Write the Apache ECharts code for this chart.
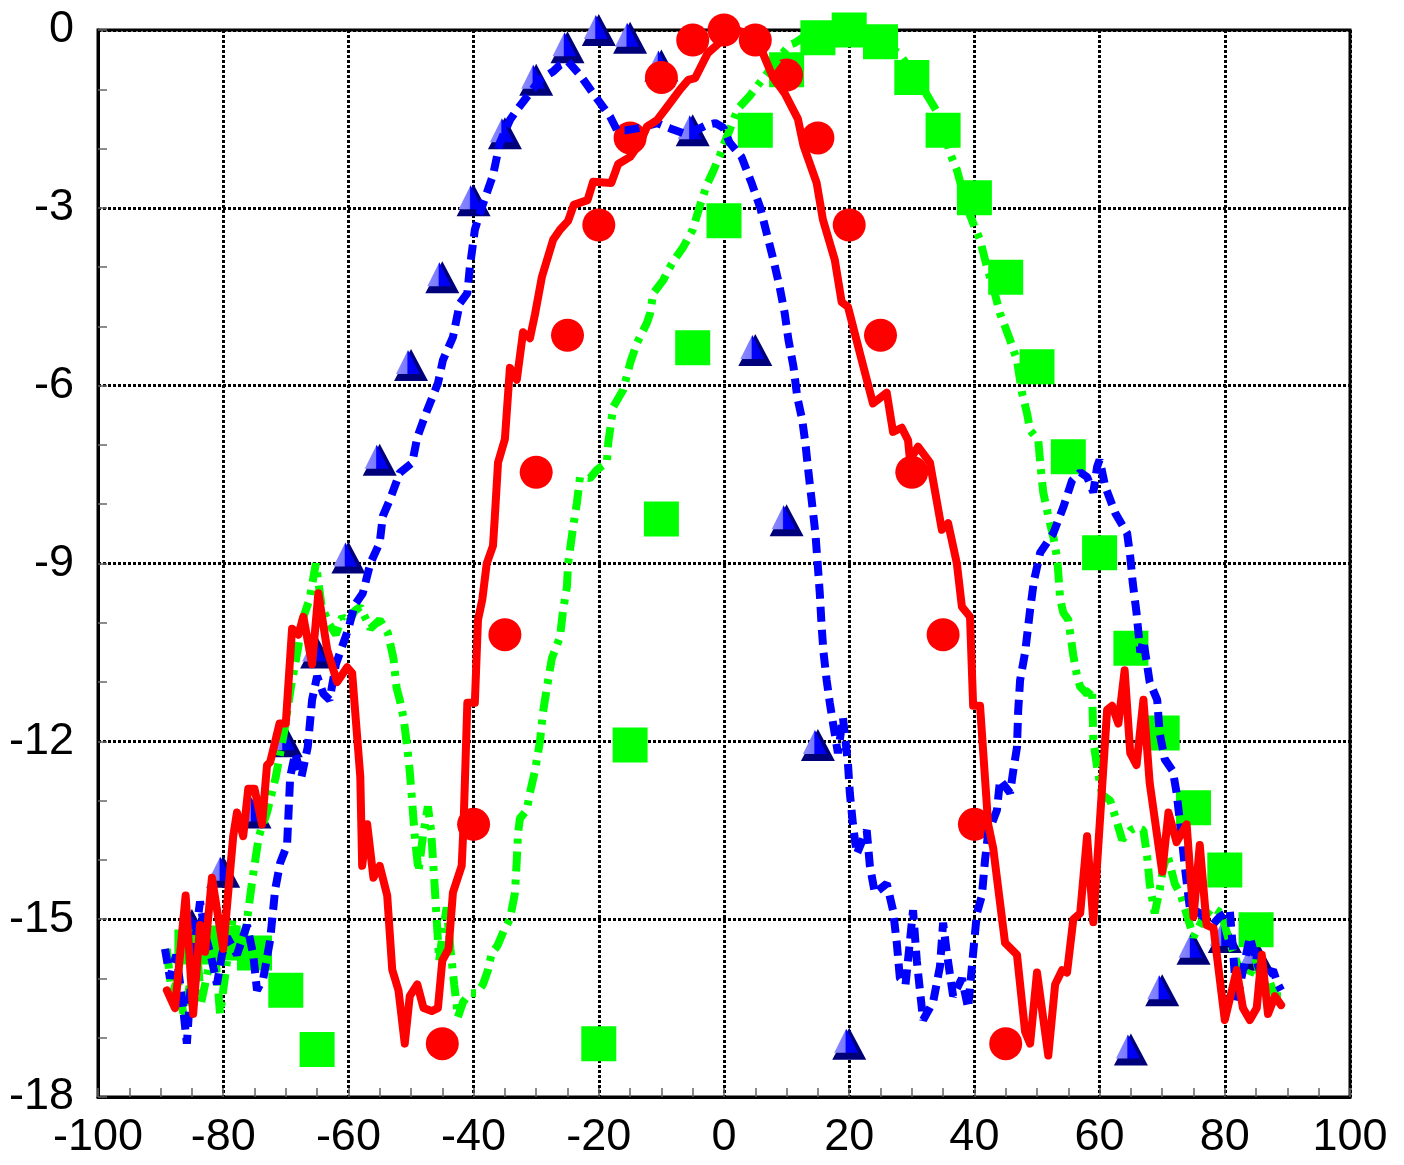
<!DOCTYPE html>
<html>
<head>
<meta charset="utf-8">
<script src="https://cdn.jsdelivr.net/npm/echarts@6/dist/echarts.min.js"></script>
<style>
  html, body { margin: 0; padding: 0; background: #fff; }
  #main { width: 1404px; height: 1165px; }
</style>
</head>
<body>
<div id="main"></div>
<script>
// marker angles (degrees) and levels (dB)
const triangleX = [-85, -80, -75, -70, -65, -60, -55, -50, -45, -40, -35, -30, -25, -20, -15, -10, -5, 0, 5, 10, 15, 20, 65, 70, 75, 80, 85];
const triangleY = [-15.1, -14.2, -13.2, -12.0, -10.5, -8.9, -7.25, -5.65, -4.17, -2.87, -1.74, -0.84, -0.29, 0, -0.13, -0.6, -1.69, -3.2, -5.4, -8.27, -12.06, -17.1, -17.2, -16.2, -15.5, -15.3, -15.6];

const squareX = [-85, -80, -75, -70, -65, -20, -15, -10, -5, 0, 5, 10, 15, 20, 25, 30, 35, 40, 45, 50, 55, 60, 65, 70, 75, 80, 85];
const squareY = [-15.47, -15.4, -15.57, -16.2, -17.2, -17.1, -12.06, -8.25, -5.36, -3.22, -1.69, -0.67, -0.13, 0, -0.2, -0.8, -1.69, -2.83, -4.17, -5.68, -7.2, -8.82, -10.43, -11.86, -13.12, -14.17, -15.18];

const circleX = [-45, -40, -35, -30, -25, -20, -15, -10, -5, 0, 5, 10, 15, 20, 25, 30, 35, 40, 45];
const circleY = [-17.1, -13.4, -10.2, -7.46, -5.15, -3.29, -1.82, -0.8, -0.17, 0, -0.17, -0.76, -1.82, -3.29, -5.15, -7.46, -10.2, -13.4, -17.1];

// measured curves [angle, dB]
const redLine = [
  [-89, -16.2], [-87.7, -16.5], [-86, -14.6], [-84.8, -16.6], [-83.7, -15.1], [-82.9, -15.55], [-81.8, -14.3], [-80, -15.5],
  [-78.4, -13.6], [-77.8, -13.2], [-76.8, -13.6], [-76, -12.8], [-75, -12.8], [-73.8, -13.4], [-73, -12.4], [-72.5, -12.35],
  [-71, -11.7], [-70, -11.7], [-69, -10.1], [-68, -10.2], [-67.2, -9.9], [-65.8, -10.7], [-64.8, -9.5], [-63.4, -10.45],
  [-61.8, -11.0], [-60.2, -10.75], [-59.4, -10.85], [-58.1, -12.6], [-57.8, -14.1], [-57, -13.4], [-56, -14.3], [-55, -14.1],
  [-53.8, -14.6], [-53, -15.85], [-52, -16.2], [-51, -17.1], [-50.2, -16.3], [-49, -16.1], [-48, -16.5], [-46.7, -16.55],
  [-45.7, -16.5], [-45, -15.7], [-44, -15.5], [-43.3, -14.55], [-41.9, -14.1], [-41.6, -13.4], [-41, -11.35], [-39.8, -11.35],
  [-39.3, -9.95], [-38.6, -9.6], [-37.9, -9.0], [-36.9, -8.7], [-36.6, -8.2], [-36.1, -7.3], [-35, -6.9], [-34.2, -5.7],
  [-33.1, -5.9], [-32.1, -5.1], [-31, -5.2], [-30.2, -4.8], [-29.1, -4.17], [-27.3, -3.54], [-26.2, -3.37], [-24.9, -3.22],
  [-24, -2.95], [-21.8, -2.87], [-20.9, -2.56], [-18, -2.58], [-16.9, -2.26], [-15, -2.14], [-13.4, -1.9], [-12.3, -1.63],
  [-10.7, -1.52], [-9.1, -1.3], [-7, -1.0], [-5.7, -0.84], [-4.6, -0.81], [-2.6, -0.39], [-1.4, -0.28], [-0.6, -0.2],
  [0.5, -0.05], [2, 0], [3.5, -0.05], [5, -0.2], [6.2, -0.39], [7.8, -0.79], [9.7, -1.07], [11.8, -1.5], [12.7, -1.95],
  [14.8, -2.58], [15.8, -3.2], [17.7, -3.88], [18.8, -4.59], [19.8, -4.67], [21.7, -5.45], [23.8, -6.3], [26, -6.12],
  [27, -6.78], [28.4, -6.71], [29.4, -6.92], [29.7, -7.25], [31, -7.03], [32.9, -7.3], [34.8, -8.43], [35.8, -8.32],
  [37.2, -9.0], [38, -9.73], [39.3, -9.9], [39.8, -11.4], [40.9, -11.4], [42.2, -13.4], [43, -13.8], [44.9, -15.4],
  [46.8, -15.6], [48.1, -16.9], [48.9, -17.1], [50, -15.9], [51.8, -17.3], [52.9, -16.1], [54, -15.86], [54.8, -15.9],
  [55.8, -15.0], [56.9, -14.9], [58, -13.6], [59, -15.05], [61.2, -11.47], [62, -11.4], [63, -11.7], [64, -10.8],
  [64.9, -12.2], [65.9, -12.4], [67, -11.3], [68, -12.7], [70, -14.2], [71, -13.2], [72.3, -13.7], [73.9, -13.4],
  [75, -14.96], [76, -13.75], [77.1, -15.1], [78.2, -15.15], [80, -16.7], [81.9, -15.86], [82.9, -16.5], [84, -16.7],
  [85.1, -16.5], [85.9, -15.6], [86.9, -16.6], [88, -16.3], [89, -16.45]
];

const blueLine = [
  [-89.3, -15.5], [-88.5, -16.0], [-87.5, -15.6], [-86.5, -16.4], [-85.8, -17.1], [-85, -15.8], [-84.3, -15.2], [-83.7, -14.7],
  [-82.8, -15.3], [-82, -15.6], [-81, -16.1], [-80.2, -15.6], [-79.4, -15.3], [-77.8, -15.6], [-76.2, -15.1], [-75.2, -15.6],
  [-74.6, -16.2], [-73.6, -16.0], [-72.5, -15.35], [-71.7, -14.5], [-70.9, -14.05], [-69.8, -13.75], [-69.3, -12.6], [-68.5, -12.2],
  [-67.5, -12.6], [-66.5, -12.1], [-65.8, -11.3], [-65, -10.9], [-64, -11.2], [-63, -11.3], [-62, -10.7], [-61, -10.4],
  [-60, -10.1], [-59, -9.7], [-57.7, -9.5], [-56.5, -9.0], [-55, -8.65], [-54.5, -8.2], [-53.4, -7.93], [-51.8, -7.47],
  [-49.8, -7.3], [-49, -6.87], [-47.4, -6.41], [-45.7, -5.96], [-44.9, -5.57], [-43.3, -5.18], [-42.2, -4.61], [-41, -4.44],
  [-40.6, -4.0], [-39.8, -3.37], [-39, -3.09], [-37.9, -2.75], [-36.9, -2.45], [-35.8, -1.9], [-34.2, -1.52], [-33.1, -1.35],
  [-31.5, -1.13], [-29.4, -0.84], [-27.3, -0.7], [-26.2, -0.59], [-24.9, -0.53], [-23, -0.76], [-20.9, -1.07], [-19.3, -1.3],
  [-18.2, -1.46], [-17.1, -1.69], [-15.5, -1.69], [-13.9, -1.66], [-12.3, -1.62], [-10.7, -1.57], [-8.6, -1.66], [-6.5, -1.74],
  [-5, -1.72], [-2.7, -1.6], [-1.4, -1.57], [-0.1, -1.65], [0.9, -1.9], [2.8, -2.14], [4.4, -2.58], [5.8, -3.0],
  [6.8, -3.42], [7.9, -3.88], [8.9, -4.34], [9.7, -4.78], [10.3, -5.23], [11.1, -5.68], [11.7, -6.19], [12.5, -6.58],
  [13, -6.97], [13.5, -7.47], [14, -7.93], [14.6, -8.49], [15, -9.06], [15.3, -9.5], [15.6, -10.07], [15.9, -10.5],
  [16.4, -10.97], [16.9, -11.35], [17.5, -11.75], [18.2, -12.2], [19, -11.6], [19.8, -12.37], [20.1, -12.87], [20.6, -13.4],
  [21.2, -13.9], [22.8, -13.5], [23.3, -14.1], [24.1, -14.56], [26, -14.4], [27, -14.85], [27.6, -15.4], [28.1, -16.0],
  [29, -16.1], [30.2, -14.85], [30.8, -15.7], [31.8, -16.7], [33.4, -16.4], [34.5, -15.8], [35, -15.06], [35.6, -15.57],
  [36.6, -16.3], [38, -16.0], [39, -16.5], [39.8, -15.57], [40.4, -14.9], [41.2, -14.6], [41.7, -14.0], [42.2, -13.55],
  [43.6, -13.16], [44.1, -12.65], [45.7, -12.87], [46.2, -12.5], [46.8, -12.1], [47, -11.47], [47.3, -10.97], [48.1, -10.5],
  [48.9, -9.78], [49.5, -9.3], [50.5, -8.82], [52.6, -8.49], [54.2, -8.05], [55.6, -7.6], [56.9, -7.46], [58, -7.54],
  [59, -7.8], [59.6, -7.37], [60, -7.25], [60.9, -7.7], [62.5, -8.15], [64.4, -8.49], [64.9, -8.89], [65.3, -9.33],
  [65.9, -9.83], [66.5, -10.5], [67, -10.3], [68, -11.0], [69.2, -11.3], [69.6, -11.86], [70.4, -12.3], [71.7, -12.5],
  [72.3, -12.87], [73.1, -13.6], [73.6, -14.1], [74.4, -14.8], [76, -14.9], [78, -15.1], [79.2, -14.96], [80.8, -14.85],
  [81.3, -15.5], [81.9, -16.4], [82.9, -15.86], [84, -15.3], [85, -15.7], [86.1, -16.0], [87.7, -15.86], [88.5, -16.1],
  [89, -16.2]
];

const greenLine = [
  [-89, -15.5], [-88.2, -16.3], [-87.3, -16.0], [-86.2, -16.7], [-85.2, -16.0], [-84.3, -15.4], [-83.5, -16.4], [-82.5, -15.9],
  [-81.5, -15.3], [-80.5, -16.6], [-79.5, -15.8], [-78.5, -15.0], [-77.3, -15.6], [-76.3, -15.1], [-75.3, -14.3], [-74.3, -13.6],
  [-73, -13.2], [-71.6, -12.6], [-70.2, -11.8], [-69.2, -11.1], [-68, -10.4], [-67.5, -10.0], [-66.2, -9.6], [-65.2, -9.0],
  [-64.3, -9.7], [-63.2, -10.0], [-62, -10.2], [-61, -9.9], [-60, -10.0], [-59, -9.8], [-58.1, -9.73], [-56.5, -10.1],
  [-55, -9.95], [-53.7, -10.17], [-52.8, -10.6], [-52.3, -11.1], [-51.8, -11.3], [-51.2, -11.6], [-50.6, -12.1], [-50.2, -12.5],
  [-49.9, -12.9], [-49.4, -13.6], [-48.8, -14.2], [-48.1, -13.6], [-47.3, -13.1], [-46.8, -13.5], [-46.3, -14.3], [-45.9, -15.0],
  [-45.5, -15.7], [-44.9, -15.2], [-44.3, -14.8], [-43.7, -15.5], [-43.1, -16.1], [-42.5, -16.65], [-41.7, -16.4], [-40.6, -16.25],
  [-39.5, -16.25], [-38.5, -16.1], [-37.7, -15.86], [-37.1, -15.57], [-36.2, -15.45], [-35.2, -15.2], [-34.2, -15.0], [-33.4, -14.56],
  [-33.1, -14.0], [-32.9, -13.55], [-32.6, -13.3], [-31.5, -13.16], [-31, -12.87], [-30.2, -12.5], [-29.4, -12.0], [-28.9, -11.5],
  [-28.3, -11.1], [-27.5, -10.6], [-26.2, -10.24], [-25.7, -9.78], [-25.1, -9.4], [-24.9, -9.0], [-24.1, -8.38], [-23.5, -7.98],
  [-23, -7.54], [-21.4, -7.56], [-20.3, -7.42], [-18.7, -7.3], [-18.5, -6.97], [-17.7, -6.36], [-16.1, -6.07], [-15, -5.62],
  [-13.9, -5.28], [-12.3, -4.94], [-11.8, -4.78], [-11.3, -4.44], [-9.7, -4.22], [-8.9, -4.05], [-8.1, -3.9], [-6.5, -3.66],
  [-5, -3.37], [-3.8, -2.95], [-2.7, -2.6], [-1.8, -2.4], [-0.6, -2.1], [-0.1, -1.95], [1, -1.66], [2.2, -1.33],
  [4.2, -1.1], [5.2, -0.96], [6.9, -0.73], [8.9, -0.45], [10.5, -0.25], [11.3, -0.22], [13, -0.1], [16, 0],
  [20, 0], [24, -0.1], [28, -0.4], [31, -0.85], [32.9, -1.18], [34.5, -1.46], [36.1, -2.08], [37.2, -2.36],
  [38.8, -2.98], [39.8, -3.26], [40.9, -3.54], [42, -4.0], [43, -4.34], [44.1, -4.78], [45.7, -5.23], [46.8, -5.57],
  [47.6, -6.12], [48.4, -6.46], [48.9, -6.75], [50.2, -6.92], [50.6, -7.4], [51, -7.8], [51.8, -8.2], [52.6, -8.55],
  [53.2, -8.9], [53.4, -9.16], [53.7, -9.6], [54.2, -9.83], [55, -9.95], [55.3, -10.17], [55.8, -10.55], [56.4, -10.9],
  [56.9, -11.08], [58, -11.2], [58.8, -11.1], [59, -12.0], [59.7, -12.5], [60.4, -12.9], [61.7, -13.0], [62.5, -13.27],
  [63.6, -13.66], [64.9, -13.5], [65.9, -13.45], [67, -13.5], [67.6, -13.95], [68, -14.4], [68.8, -14.9], [69.6, -14.5],
  [70.1, -14.17], [70.8, -13.9], [72, -14.4], [73, -14.6], [75, -15.3], [76.5, -15.0], [78, -14.8], [79.5, -14.9],
  [80.5, -15.3], [81.5, -15.6], [82.5, -15.9], [83.7, -16.0], [85, -15.7], [86, -16.1], [87, -16.0], [88, -16.3],
  [89, -16.3]
];

const xTicks = { min: -100, max: 100, step: 20 };
const yTicks = { min: -18, max: 0, step: 3 };

const zip = (xs, ys) => xs.map((x, i) => [x, ys[i]]);

const myChart = echarts.init(document.getElementById('main'));

const labelFont = {
  fontSize: 45,
  fontFamily: 'Liberation Sans, Arial, sans-serif',
  color: '#000',
};

const gridLine = {
  show: true,
  lineStyle: { color: '#000', width: 3, type: [3, 2] },
};

// drawn line width for the three curves
const curveWidth = 8;

const option = {
  backgroundColor: '#fff',
  animation: false,
  grid: {
    left: 98,
    right: 54,
    top: 30,
    bottom: 68,
    show: true,
    borderColor: '#000',
    borderWidth: 3,
  },
  xAxis: {
    type: 'value',
    min: xTicks.min,
    max: xTicks.max,
    interval: xTicks.step,
    axisLine: { show: true, onZero: false, lineStyle: { color: '#000', width: 3 } },
    axisTick: { show: true, inside: true, length: 9, lineStyle: { color: '#666', width: 1.5 } },
    minorTick: { show: true, splitNumber: 4, length: 9, lineStyle: { color: '#666', width: 1.5 } },
    axisLabel: { ...labelFont, margin: 18 },
    splitLine: gridLine,
  },
  yAxis: {
    type: 'value',
    min: yTicks.min,
    max: yTicks.max,
    interval: yTicks.step,
    axisLine: { show: true, onZero: false, lineStyle: { color: '#000', width: 3 } },
    axisTick: { show: true, inside: true, length: 9, lineStyle: { color: '#666', width: 1.5 } },
    minorTick: { show: true, splitNumber: 3, length: 9, lineStyle: { color: '#666', width: 1.5 } },
    axisLabel: { ...labelFont, margin: 24 },
    splitLine: gridLine,
  },
  series: [
    // 3D-looking triangles: dark base + lighter inset face
    {
      type: 'scatter',
      data: zip(triangleX, triangleY),
      symbol: 'triangle',
      symbolSize: [34, 32],
      itemStyle: { color: '#00007a', opacity: 1 },
      z: 2,
    },
    {
      type: 'scatter',
      data: zip(triangleX, triangleY),
      symbol: 'triangle',
      symbolSize: [24, 24],
      symbolOffset: [-3, -3],
      itemStyle: {
        opacity: 1,
        color: {
          type: 'linear', x: 0, y: 0, x2: 1, y2: 0,
          colorStops: [
            { offset: 0, color: '#8c8cff' },
            { offset: 0.45, color: '#7a7aff' },
            { offset: 0.5, color: '#0000ff' },
            { offset: 1, color: '#0000e8' },
          ],
        },
      },
      z: 3,
    },
    {
      type: 'scatter',
      data: zip(squareX, squareY),
      symbol: 'rect',
      symbolSize: 35,
      itemStyle: { color: '#00ff00', opacity: 1 },
      z: 4,
    },
    {
      type: 'scatter',
      data: zip(circleX, circleY),
      symbol: 'circle',
      symbolSize: 33,
      itemStyle: { color: '#ff0000', opacity: 1 },
      z: 5,
    },
    {
      type: 'line',
      data: greenLine,
      showSymbol: false,
      lineStyle: { color: '#00ff00', width: curveWidth, type: [20, 8, 5, 8], cap: 'butt' },
      z: 6,
    },
    {
      type: 'line',
      data: blueLine,
      showSymbol: false,
      lineStyle: { color: '#0000ff', width: curveWidth, type: [15, 8], cap: 'butt' },
      z: 7,
    },
    {
      type: 'line',
      data: redLine,
      showSymbol: false,
      lineStyle: { color: '#ff0000', width: curveWidth, cap: 'round', join: 'round' },
      z: 8,
    },
  ],
};

myChart.setOption(option);
</script>
</body>
</html>
